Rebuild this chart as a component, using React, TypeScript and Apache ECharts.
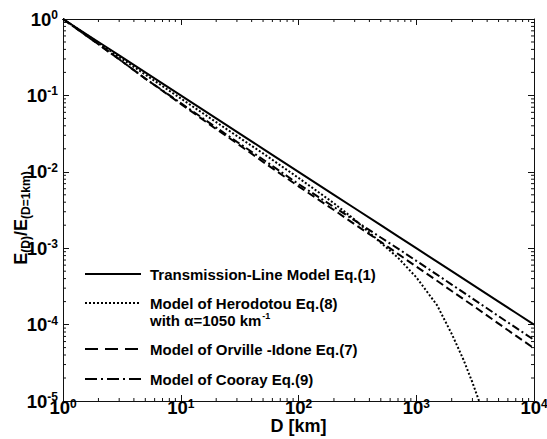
import React, { useEffect, useRef } from 'react';
import * as echarts from 'echarts';

// Distance D [km]
const distances = [1, 2, 3, 5, 10, 20, 30, 50, 100, 200, 300, 500, 700, 1000, 1500, 2000, 3000, 5000, 7000, 10000];
// Transmission-Line Model Eq.(1)
const transmissionLine = [1, 0.5, 0.3333, 0.2, 0.1, 0.05, 0.03333, 0.02, 0.01, 0.005, 0.003333, 0.002, 0.001429, 0.001, 0.0006667, 0.0005, 0.0003333, 0.0002, 0.0001429, 0.0001];
// Model of Orville-Idone Eq.(7)
const orvilleIdone = [1, 0.467, 0.297, 0.166, 0.0776, 0.0362, 0.0236, 0.0135, 0.00646, 0.00316, 0.00206, 0.00121, 0.000842, 0.000575, 0.000375, 0.000275, 0.000179, 0.000103, 0.0000716, 0.000049];
// Model of Cooray Eq.(9)
const cooray = [1, 0.467, 0.297, 0.166, 0.0794, 0.038, 0.0247, 0.0145, 0.00692, 0.00346, 0.00231, 0.00138, 0.000987, 0.000684, 0.000451, 0.000334, 0.00022, 0.000129, 0.0000912, 0.0000631];
// Model of Herodotou Eq.(8)
const herodotouD = [1, 2, 3, 5, 10, 20, 30, 50, 100, 200, 300, 500, 700, 1000, 1500, 2000, 2500, 3000, 3500];
const herodotou = [1, 0.489, 0.318, 0.187, 0.0912, 0.0446, 0.0294, 0.0174, 0.00832, 0.00388, 0.00236, 0.00118, 0.00075, 0.000417, 0.00018, 0.0000757, 0.0000356, 0.0000175, 0.000009];

// axis ranges and minor ticks
const xMin = 1;
const xMax = 10000;
const yMin = 0.00001;
const yMax = 1;
const minorMultipliers = [2, 3, 4, 5, 6, 7, 8, 9];
const xDecades = [1, 10, 100, 1000];
const yDecades = [0.00001, 0.0001, 0.001, 0.01, 0.1];

const FONT = "'Liberation Sans', Arial, Helvetica, sans-serif";

const pair = (xs: number[], ys: number[]) => xs.map((x, i) => [x, ys[i]]);

export default function App() {
  const ref = useRef<HTMLDivElement>(null);
  useEffect(() => {
    document.body.style.margin = '0';
    const chart = echarts.init(ref.current!, undefined, { renderer: 'svg' });
    const expRich = {
      b: { fontSize: 18.5, lineHeight: 17, fontWeight: 'bold', fontFamily: FONT, color: '#000' },
      s: { fontSize: 12, lineHeight: 12, fontWeight: 'bold', fontFamily: FONT, color: '#000', padding: [0, 0, 8, 0] },
    };
    const fmt = (v: number) => `{b|10}{s|${Math.round(Math.log10(v))}}`;
    const lineStyle = { color: '#111', width: 1 };
    const xMinor = xDecades.flatMap((d) => minorMultipliers.map((m) => m * d));
    const yMinor = yDecades.flatMap((d) => minorMultipliers.map((m) => m * d));
    const tickStyle = { stroke: '#111', lineWidth: 1 };

    const baseX = {
      type: 'log', logBase: 10, min: xMin, max: xMax,
      axisLine: { show: true, onZero: false, lineStyle },
      axisTick: { show: true, inside: true, length: 6, lineStyle },
      splitLine: { show: false },
    };
    const baseY = {
      type: 'log', logBase: 10, min: yMin, max: yMax,
      axisLine: { show: true, onZero: false, lineStyle },
      axisTick: { show: true, inside: true, length: 6, lineStyle },
      splitLine: { show: false },
    };
    const legendFont = { fontSize: 15, fontWeight: 'bold', fontFamily: FONT, fill: '#000' };

    chart.setOption({
      animation: false,
      backgroundColor: '#fff',
      grid: { left: 63, right: 13, top: 19, bottom: 38, containLabel: false, outerBoundsMode: 'none' },
      xAxis: [
        { ...baseX, position: 'bottom', axisLabel: { formatter: fmt, rich: expRich, margin: -2 } },
        { ...baseX, position: 'top', axisLabel: { show: false } },
      ],
      yAxis: [
        { ...baseY, position: 'left', axisLabel: { formatter: fmt, rich: expRich, margin: 5 } },
        { ...baseY, position: 'right', axisLabel: { show: false } },
      ],
      series: [
        {
          type: 'custom', xAxisIndex: 0, yAxisIndex: 0, silent: true,
          data: xMinor.map((v) => [v, yMin]),
          renderItem: (_p: any, api: any) => {
            const v = api.value(0);
            const b = api.coord([v, yMin]);
            const t = api.coord([v, yMax]);
            return {
              type: 'group', children: [
                { type: 'line', shape: { x1: b[0], y1: b[1], x2: b[0], y2: b[1] - 3 }, style: tickStyle },
                { type: 'line', shape: { x1: t[0], y1: t[1], x2: t[0], y2: t[1] + 3 }, style: tickStyle },
              ],
            };
          },
        },
        {
          type: 'custom', xAxisIndex: 0, yAxisIndex: 0, silent: true,
          data: yMinor.map((v) => [xMin, v]),
          renderItem: (_p: any, api: any) => {
            const v = api.value(1);
            const l = api.coord([xMin, v]);
            const r = api.coord([xMax, v]);
            return {
              type: 'group', children: [
                { type: 'line', shape: { x1: l[0], y1: l[1], x2: l[0] + 3, y2: l[1] }, style: tickStyle },
                { type: 'line', shape: { x1: r[0], y1: r[1], x2: r[0] - 3, y2: r[1] }, style: tickStyle },
              ],
            };
          },
        },
        {
          name: 'Model of Herodotou Eq.(8)', type: 'line', showSymbol: false, clip: true,
          data: pair(herodotouD, herodotou),
          lineStyle: { color: '#000', width: 2, type: [2, 2] },
        },
        {
          name: 'Model of Orville -Idone Eq.(7)', type: 'line', showSymbol: false, clip: true,
          data: pair(distances, orvilleIdone),
          lineStyle: { color: '#000', width: 2, type: [8, 4] },
        },
        {
          name: 'Model of Cooray Eq.(9)', type: 'line', showSymbol: false, clip: true,
          data: pair(distances, cooray),
          lineStyle: { color: '#000', width: 2, type: [8, 3, 2, 3] },
        },
        {
          name: 'Transmission-Line Model Eq.(1)', type: 'line', showSymbol: false, clip: true,
          data: pair(distances, transmissionLine),
          lineStyle: { color: '#000', width: 2 },
        },
      ],
      graphic: [
        { type: 'line', shape: { x1: 85, y1: 274, x2: 141, y2: 274 }, style: { stroke: '#000', lineWidth: 2 } },
        { type: 'line', shape: { x1: 85, y1: 303, x2: 141, y2: 303 }, style: { stroke: '#000', lineWidth: 2, lineDash: [2, 2] } },
        { type: 'line', shape: { x1: 85, y1: 349, x2: 141, y2: 349 }, style: { stroke: '#000', lineWidth: 2, lineDash: [13, 7] } },
        { type: 'line', shape: { x1: 85, y1: 379, x2: 141, y2: 379 }, style: { stroke: '#000', lineWidth: 2, lineDash: [12, 4, 2, 4] } },
        { type: 'text', x: 150, y: 274, style: { text: 'Transmission-Line Model Eq.(1)', ...legendFont, verticalAlign: 'middle' } },
        { type: 'text', x: 150, y: 303, style: { text: 'Model of Herodotou Eq.(8)', ...legendFont, verticalAlign: 'middle' } },
        {
          type: 'text', x: 150, y: 320,
          style: {
            text: '{a|with α=1050 km}{s|-1}', verticalAlign: 'middle',
            rich: {
              a: { fontSize: 15, fontWeight: 'bold', fontFamily: FONT, color: '#000' },
              s: { fontSize: 9, fontWeight: 'bold', fontFamily: FONT, color: '#000', padding: [0, 0, 8, 1] },
            },
          },
        },
        { type: 'text', x: 150, y: 349, style: { text: 'Model of Orville -Idone Eq.(7)', ...legendFont, verticalAlign: 'middle' } },
        { type: 'text', x: 150, y: 379, style: { text: 'Model of Cooray Eq.(9)', ...legendFont, verticalAlign: 'middle' } },
        {
          type: 'text', x: 298.5, y: 426,
          style: { text: 'D [km]', fontSize: 18, fontWeight: 'bold', fontFamily: FONT, fill: '#000', align: 'center', verticalAlign: 'middle' },
        },
        {
          type: 'text', x: 21, y: 218, rotation: Math.PI / 2,
          style: {
            text: '{m|E}{s|(D)}{m|/E}{s|(D=1km)}', align: 'center', verticalAlign: 'middle',
            rich: {
              m: { fontSize: 18, fontWeight: 'bold', fontFamily: FONT, color: '#000' },
              s: { fontSize: 12, fontWeight: 'bold', fontFamily: FONT, color: '#000', padding: [9, 0, 0, 0] },
            },
          },
        },
      ],
    });
    return () => chart.dispose();
  }, []);
  return <div ref={ref} style={{ width: 547, height: 439 }} />;
}
